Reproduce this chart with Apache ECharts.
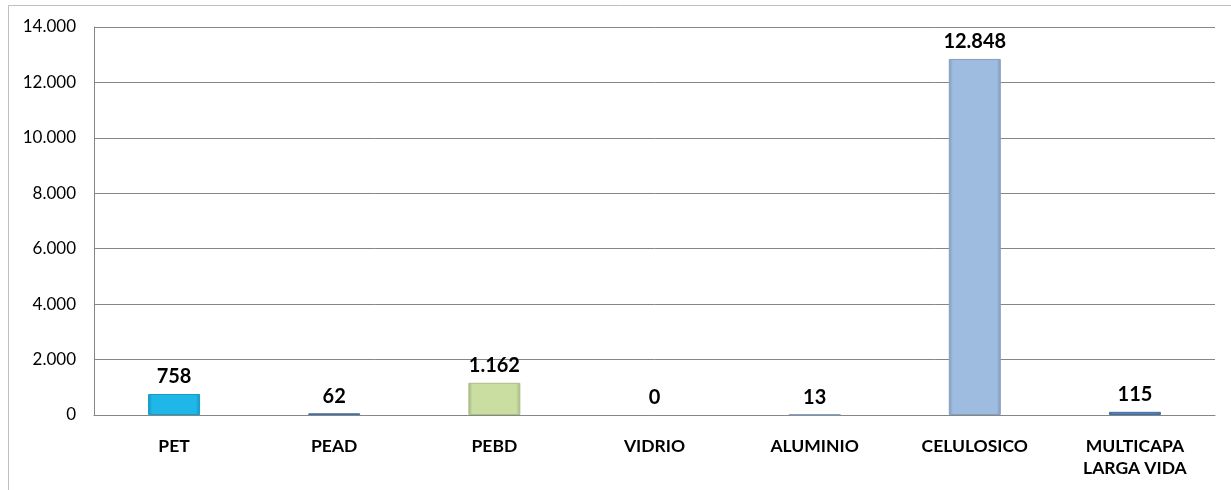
<!DOCTYPE html>
<html><head><meta charset="utf-8">
<script src="https://cdn.jsdelivr.net/npm/echarts@6/dist/echarts.min.js"></script>
<style>html,body{margin:0;padding:0;background:#fff}#c{width:1231px;height:490px}</style>
</head><body><div id="c"></div>
<script>
const categories = ['PET', 'PEAD', 'PEBD', 'VIDRIO', 'ALUMINIO', 'CELULOSICO', 'MULTICAPA\nLARGA VIDA'];
const values = [758, 62, 1162, 0, 13, 12848, 115];
const yTicks = [0, 2000, 4000, 6000, 8000, 10000, 12000, 14000];

const barColors = ['#1fb6e8', '#4f81bd', '#c9dea0', '#4f81bd', '#95b3d7', '#9ebbe0', '#4f81bd'];
function fmt(v) { return String(Math.round(v)).replace(/\B(?=(\d{3})+(?!\d))/g, '.'); }
function shade(hex, f) {
  const n = parseInt(hex.slice(1), 16);
  let r = n >> 16, g = (n >> 8) & 255, b = n & 255;
  r = Math.round(r * f); g = Math.round(g * f); b = Math.round(b * f);
  return 'rgb(' + r + ',' + g + ',' + b + ')';
}
function grad(c) {
  return new echarts.graphic.LinearGradient(0, 0, 1, 0, [
    { offset: 0, color: shade(c, 0.82) },
    { offset: 0.08, color: c },
    { offset: 0.92, color: c },
    { offset: 1, color: shade(c, 0.82) }
  ]);
}
const chart = echarts.init(document.getElementById('c'));
chart.setOption({
  animation: false,
  grid: { left: 94, right: 16, top: 27, bottom: 75 },
  graphic: [{ type: 'rect', shape: { x: 8.5, y: 5.5, width: 1400, height: 600 }, style: { fill: 'none', stroke: '#bfbfbf', lineWidth: 1 }, z: -10 }],
  xAxis: {
    type: 'category', data: categories,
    axisLine: { lineStyle: { color: '#868686' } },
    axisTick: { show: false },
    axisLabel: { color: '#000', fontFamily: 'Lato', fontWeight: 'bold', fontSize: 17.5, margin: 20, lineHeight: 22 }
  },
  yAxis: {
    type: 'value', min: 0, max: 14000, interval: 2000,
    axisLine: { show: true, lineStyle: { color: '#868686' } },
    splitLine: { lineStyle: { color: '#868686' } },
    axisLabel: { color: '#000', fontFamily: 'Lato', fontSize: 17, margin: 18, formatter: v => fmt(v) }
  },
  series: [{
    type: 'bar', barWidth: 52,
    data: values.map((v, i) => ({ value: v, itemStyle: { color: grad(barColors[i]), borderColor: shade(barColors[i], 0.85), borderWidth: v > 0 ? 1 : 0 } })),
    label: { show: true, position: 'top', distance: 7, color: '#000', fontFamily: 'Lato', fontWeight: 'bold', fontSize: 20, formatter: p => fmt(p.value) }
  }]
});
</script></body></html>
